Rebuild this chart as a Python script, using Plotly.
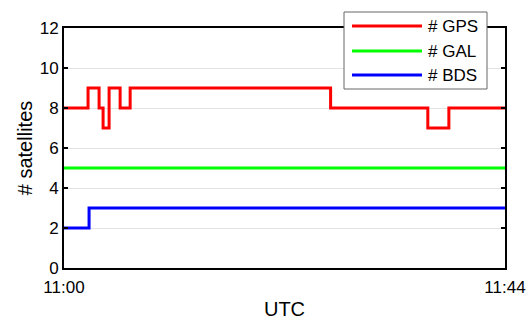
import plotly.graph_objects as go

day = "2024-01-01 "
gps_t = ["11:00:00", "11:02:24", "11:03:30", "11:03:54", "11:04:30", "11:05:36",
         "11:06:36", "11:26:36", "11:36:18", "11:38:24", "11:44:00"]
gps_v = [8, 9, 8, 7, 9, 8, 9, 8, 7, 8, 8]
gal_t = ["11:00:00", "11:44:00"]
gal_v = [5, 5]
bds_t = ["11:00:00", "11:02:30", "11:44:00"]
bds_v = [2, 3, 3]

series = [("# GPS", gps_t, gps_v, "#ff0000"),
          ("# GAL", gal_t, gal_v, "#00ff00"),
          ("# BDS", bds_t, bds_v, "#0000ff")]

x_ticks = ["11:00", "11:44"]
y_ticks = [0, 2, 4, 6, 8, 10, 12]

FONT = "Liberation Sans, Arial, sans-serif"
fig = go.Figure()
for name, t, v, c in series:
    fig.add_trace(go.Scatter(x=[day + s for s in t], y=v, mode="lines", name=name,
                             line=dict(color=c, width=3, shape="hv"), showlegend=False))

fig.update_layout(
    width=532, height=320, margin=dict(l=64, r=27, t=28, b=52),
    paper_bgcolor="white", plot_bgcolor="white",
    font=dict(family=FONT, size=17, color="#000"),
    xaxis=dict(range=[day + "11:00:00", day + "11:44:00"], automargin=False,
               tickvals=[day + s + ":00" for s in x_ticks], ticktext=x_ticks,
               showgrid=False, showline=True, linecolor="black", linewidth=2,
               mirror="ticks", ticks="inside", ticklen=0, ticklabelstandoff=3,
               title=dict(text="UTC", standoff=10, font=dict(size=20)),
               tickfont=dict(size=17)),
    yaxis=dict(range=[0, 12], tickvals=y_ticks, showgrid=True, gridcolor="#e3e3e3",
               automargin=False,
               gridwidth=1, zeroline=False, showline=True, linecolor="black",
               linewidth=2, mirror="ticks", ticks="inside", ticklen=4, tickwidth=2,
               tickcolor="black",
               title=dict(text="# satellites", standoff=2, font=dict(size=20)),
               tickfont=dict(size=17)),
)

# custom legend box
def px(x):
    return (x - 64) / 441.0

def py(y):
    return (268 - y) / 240.0

shapes = [dict(type="rect", xref="paper", yref="paper", x0=px(344), x1=px(487),
               y0=py(89), y1=py(12), fillcolor="white",
               line=dict(color="#666666", width=1), layer="above")]
annos = []
rows = [26, 51, 75]
for (name, t, v, c), ry in zip(series, rows):
    shapes.append(dict(type="line", xref="paper", yref="paper", x0=px(352), x1=px(422),
                       y0=py(ry), y1=py(ry), line=dict(color=c, width=3), layer="above"))
    annos.append(dict(xref="paper", yref="paper", x=px(426), y=py(ry), text=name,
                      showarrow=False, xanchor="left", yanchor="middle",
                      font=dict(size=17, family=FONT, color="#000")))
fig.update_layout(shapes=shapes, annotations=annos)

fig.write_html("out.html")
